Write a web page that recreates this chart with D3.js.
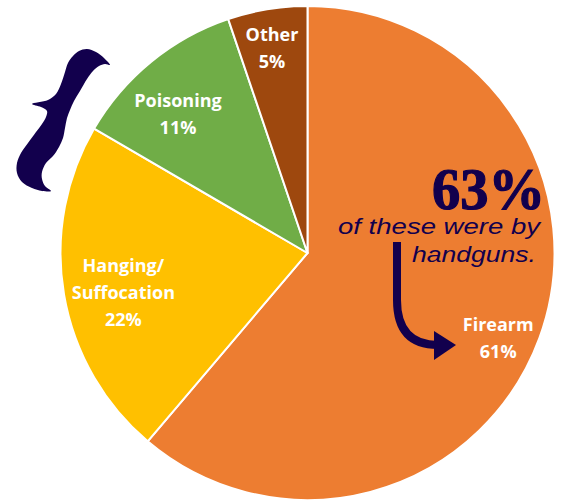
<!DOCTYPE html>
<html>
<head>
<meta charset="utf-8">
<script src="https://cdn.jsdelivr.net/npm/d3@7"></script>
<style>
  html, body { margin: 0; padding: 0; background: #ffffff; }
  svg { display: block; }
</style>
</head>
<body>
<svg id="chart" width="564" height="500"></svg>
<script>
// Data
const categories = ["Firearm", "Hanging/\nSuffocation", "Poisoning", "Other"];
const values = [61.2, 22.2, 11.4, 5.2];
const colors = ["#ED7D31", "#FFC000", "#70AD47", "#9E480E"];
const calloutBig = "63%";
const calloutLines = ["of these were by", "handguns."];

const W = 564, H = 500;
const cx = 307.5, cy = 253, R = 247;
const navy = "#12004D";

const svg = d3.select("#chart");
const g = svg.append("g").attr("transform", `translate(${cx},${cy})`);

const data = categories.map((c, i) => ({ name: c, value: values[i], color: colors[i] }));
const pie = d3.pie().sort(null).value(d => d.value).startAngle(0).endAngle(2 * Math.PI);
const arcs = pie(data);

const arc = d3.arc().innerRadius(0).outerRadius(R);
g.selectAll("path.slice")
  .data(arcs)
  .join("path")
  .attr("class", "slice")
  .attr("d", arc)
  .attr("fill", d => d.data.color)
  .attr("stroke", "#ffffff")
  .attr("stroke-width", 2)
  .attr("stroke-linejoin", "round");

// Labels (centroid on a label ring, with a small best-fit nudge)
const labelArc = d3.arc().innerRadius(0).outerRadius(2 * 200);
const labelNudge = [[3, 17], [13, 6], [-3, 16], [-3, -7]];
const lineH = 27;
arcs.forEach((d, k) => {
  const [x0, y] = labelArc.centroid(d);
  const x = x0 + labelNudge[k][0];
  const yc = y + labelNudge[k][1];
  const lines = d.data.name.split("\n").concat([Math.round(d.data.value) + "%"]);
  const t = g.append("text")
    .attr("text-anchor", "middle")
    .attr("fill", "#ffffff")
    .attr("font-family", "'Open Sans', sans-serif")
    .attr("font-weight", "bold")
    .attr("font-size", 18);
  const y0 = yc - (lines.length - 1) * lineH / 2 + 6;
  lines.forEach((ln, i) => {
    t.append("tspan").attr("x", x).attr("y", y0 + i * lineH).text(ln);
  });
});

// Callout
svg.append("text")
  .attr("x", 432).attr("y", 209)
  .attr("fill", navy)
  .attr("stroke", navy)
  .attr("stroke-width", 1.2)
  .attr("font-family", "'Liberation Serif', 'DejaVu Serif', serif")
  .attr("font-weight", "bold")
  .attr("font-size", 59)
  .attr("textLength", 113)
  .attr("lengthAdjust", "spacingAndGlyphs")
  .text(calloutBig);

const calloutX = [338, 412], calloutW = [202, 124], calloutY = [234, 262];
calloutLines.forEach((ln, i) => {
  svg.append("text")
    .attr("x", calloutX[i]).attr("y", calloutY[i])
    .attr("fill", navy)
    .attr("font-family", "'Liberation Sans', Arial, sans-serif")
    .attr("font-style", "italic")
    .attr("font-size", 22.5)
    .attr("textLength", calloutW[i])
    .attr("lengthAdjust", "spacingAndGlyphs")
    .text(ln);
});

// Arrow
svg.append("path")
  .attr("d", "M397,242 L397,300 Q397,345 438,345")
  .attr("fill", "none")
  .attr("stroke", navy)
  .attr("stroke-width", 8);
svg.append("path")
  .attr("d", "M434,331 L456,345 L434,360 Z")
  .attr("fill", navy);

// Brace (decorative outline)
const braceOutline = [[110,65],[104,58],[96,52],[87,49],[79,51],[73,56],[68,63],[65,72],[61,84],[56,94],[48,100],[32,104],
  [41,107],[47,111],[46,117],[42,124],[36,132],[28,143],[21,153],[17,163],[17,173],[22,182],[32,188],[42,191],[51,191],
  [45,186],[42,179],[42,172],[46,163],[53,156],[59,147],[63,138],[65,128],[67,118],[70,110],[74,101],[80,91],[87,79],[93,71],[99,66],[105,64]];
svg.append("path")
  .attr("d", d3.line().curve(d3.curveCatmullRomClosed.alpha(0.5))(braceOutline))
  .attr("fill", navy);
</script>
</body>
</html>
